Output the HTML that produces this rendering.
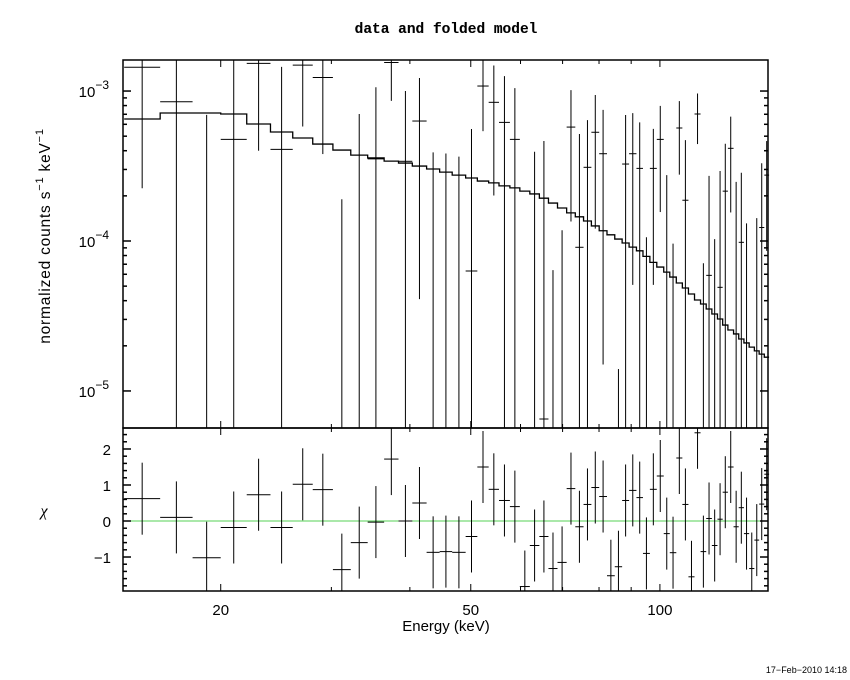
<!DOCTYPE html>
<html><head><meta charset="utf-8"><style>
html,body{margin:0;padding:0;background:#fff;}
svg{display:block;font-family:"Liberation Sans",sans-serif;}
</style></head><body>
<svg id="chart" width="850" height="680" viewBox="0 0 850 680" xmlns="http://www.w3.org/2000/svg">
<rect width="850" height="680" fill="#fff"/>
<text x="446" y="33" text-anchor="middle" font-family="Liberation Mono, monospace" font-weight="bold" font-size="14.5" stroke="#000" stroke-width="0.1">data and folded model</text>
<text transform="translate(50,236) rotate(-90)" text-anchor="middle" font-size="15.5" letter-spacing="0.8">normalized counts s<tspan dy="-7" font-size="11">−1</tspan><tspan dy="7"> keV</tspan><tspan dy="-7" font-size="11">−1</tspan></text>
<text x="44" y="516" text-anchor="middle" font-family="Liberation Serif, serif" font-style="italic" font-size="16">χ</text>
<text x="446" y="631" text-anchor="middle" font-size="15">Energy (keV)</text>
<text x="847" y="673" text-anchor="end" font-size="9">17−Feb−2010 14:18</text>
<g id="g"></g>
</svg>
<script>
// bin edges (keV)
const binEdges=[14.04,16.02,18.04,20.0,22.0,24.0,26.04,28.02,30.17,32.21,34.27,36.40,38.37,40.36,42.53,44.61,46.71,49.07,51.22,53.39,55.45,57.71,59.85,62.08,64.29,66.47,68.71,71.05,73.34,75.59,77.79,80.05,82.37,84.75,87.07,89.32,91.76,93.98,96.39,98.86,101.41,103.68,106.19,108.57,111.02,113.52,116.06,118.49,120.97,123.48,125.86,128.29,130.98,133.48,136.05,138.69,141.36,143.86,146.60,149.19];
// folded model (counts/s/keV)
const modelVals=[6.51e-4,7.14e-4,7.14e-4,7.03e-4,6.03e-4,5.33e-4,4.86e-4,4.43e-4,4.04e-4,3.74e-4,3.58e-4,3.41e-4,3.31e-4,3.16e-4,3.02e-4,2.88e-4,2.75e-4,2.63e-4,2.51e-4,2.44e-4,2.33e-4,2.26e-4,2.15e-4,2.06e-4,1.93e-4,1.79e-4,1.66e-4,1.54e-4,1.45e-4,1.36e-4,1.26e-4,1.17e-4,1.10e-4,1.03e-4,9.7e-5,9.1e-5,8.6e-5,7.9e-5,7.2e-5,6.7e-5,6.2e-5,5.75e-5,5.25e-5,4.86e-5,4.43e-5,4.04e-5,3.8e-5,3.52e-5,3.26e-5,3.02e-5,2.75e-5,2.55e-5,2.4e-5,2.22e-5,2.09e-5,1.96e-5,1.85e-5,1.76e-5,1.68e-5];
// data values
const dataVals=[1.44e-3,8.49e-4,-3.06e-4,4.76e-4,1.53e-3,4.08e-4,1.49e-3,1.23e-3,-5.4e-4,-4.7e-5,3.53e-4,1.55e-3,3.4e-4,6.31e-4,-1.8e-4,-1.67e-4,-1.75e-4,6.31e-5,1.08e-3,8.41e-4,6.18e-4,4.76e-4,-2.58e-4,-1.96e-4,6.5e-6,-2.95e-4,-2.02e-4,5.75e-4,9.08e-5,3.1e-4,5.31e-4,3.82e-4,-3.46e-4,-3.16e-4,3.26e-4,3.82e-4,3.05e-4,-1.64e-4,3.05e-4,4.76e-4,-5.3e-5,-2.24e-4,5.67e-4,1.87e-4,-4.2e-4,7.03e-4,-1.49e-4,5.9e-5,-1.17e-4,4.91e-5,2.15e-4,4.15e-4,-1.9e-5,9.8e-5,-3.9e-5,-2.44e-4,-1.21e-4,1.23e-4,2.75e-4];
// data 1-sigma errors
const dataErrs=[1.215e-3,1.35e-3,1.0e-3,1.26e-3,1.13e-3,1.04e-3,9.1e-4,8.5e-4,7.3e-4,7.5e-4,7.07e-4,6.9e-4,6.6e-4,5.9e-4,5.7e-4,5.5e-4,5.4e-4,4.95e-4,5.4e-4,6.4e-4,6.4e-4,5.7e-4,2.6e-4,5.9e-4,4.58e-4,3.59e-4,3.2e-4,4.4e-4,4.26e-4,3.3e-4,4.1e-4,3.67e-4,3.0e-4,3.3e-4,3.66e-4,3.31e-4,3.13e-4,2.7e-4,2.54e-4,3.2e-4,3.28e-4,3.2e-4,2.9e-4,2.84e-4,3.0e-4,2.6e-4,2.2e-4,2.13e-4,2.2e-4,2.44e-4,2.3e-4,2.6e-4,2.67e-4,1.87e-4,1.7e-4,2.0e-4,2.63e-4,2.07e-4,1.89e-4];
// residuals (chi)
const chiVals=[0.62,0.1,-1.02,-0.18,0.73,-0.18,1.02,0.87,-1.35,-0.6,-0.03,1.72,0.0,0.5,-0.87,-0.85,-0.87,-0.43,1.5,0.88,0.57,0.4,-1.82,-0.68,-0.43,-1.32,-1.15,0.9,-0.16,0.46,0.93,0.68,-1.52,-1.27,0.57,0.85,0.65,-0.9,0.88,1.25,-0.35,-0.88,1.75,0.46,-1.55,2.45,-0.85,0.07,-0.68,0.05,0.8,1.5,-0.16,0.37,-0.35,-1.32,-0.53,0.47,1.3];
const xTickVals=[20,30,40,50,60,70,80,90,100];
const xTickLabels=["20","50","100"];
const yTopDecades=[-3,-4,-5];
const chiTickLabels=["-1","0","1","2"];

const NS="http://www.w3.org/2000/svg";
const g=document.getElementById('g');
const L=123,R=768,T1=60,B1=428,T2=428,B2=591;
const EMIN=13.98,EMAX=148.6,LT=-2.793,LB=-5.247,CT=2.583,CB=-1.944;
const xs=e=>L+(R-L)*(Math.log10(e)-Math.log10(EMIN))/(Math.log10(EMAX)-Math.log10(EMIN));
const ys=v=>T1+(B1-T1)*(LT-Math.log10(v))/(LT-LB);
const yc=v=>T2+(B2-T2)*(CT-v)/(CT-CB);
function el(tag,a,p){const e=document.createElementNS(NS,tag);for(const k in a)e.setAttribute(k,a[k]);(p||g).appendChild(e);return e;}
function line(x1,y1,x2,y2,w,c,p){return el('line',{x1,y1,x2,y2,stroke:c||'#000','stroke-width':w||1},p);}
const clampY=(y,t,b)=>Math.max(t,Math.min(b,y));

// model step line
let d='';
modelVals.forEach((m,i)=>{const x1=xs(binEdges[i]),x2=xs(binEdges[i+1]),y=ys(m);d+=(i?'L':'M')+x1+' '+y+'L'+x2+' '+y;});
const mp=el('path',{d:d,fill:'none',stroke:'#000','stroke-width':1.3});



// data points
const dg=el('g',{});


dataVals.forEach((v,i)=>{
  const e=dataErrs[i],up=v+e,lo=v-e;
  const xc=xs(Math.sqrt(binEdges[i]*binEdges[i+1]));
  const pg=el('g',{},dg);
  
  
  if(up>0){
    const yu=clampY(ys(up),T1,B1),yl=lo>0?clampY(ys(lo),T1,B1):B1;
    if(yl>yu)line(xc,yu,xc,yl,1,'#000',pg);
  }
  if(v>0){const y=ys(v);if(y>=T1&&y<=B1)line(xs(binEdges[i]),y,xs(binEdges[i+1]),y,1,'#000',pg);}
});

// residuals
const zl=line(L,yc(0),R,yc(0),1,'#55d055');


const rg=el('g',{});


chiVals.forEach((c,i)=>{
  const xc=xs(Math.sqrt(binEdges[i]*binEdges[i+1]));
  const pg=el('g',{},rg);
  
  
  const yu=clampY(yc(c+1),T2,B2),yl=clampY(yc(c-1),T2,B2);
  line(xc,yu,xc,yl,1,'#000',pg);
  const y=yc(c);if(y>=T2&&y<=B2)line(xs(binEdges[i]),y,xs(binEdges[i+1]),y,1,'#000',pg);
});

// frames
const f1=el('rect',{x:L,y:T1,width:R-L,height:B1-T1,fill:'none',stroke:'#000','stroke-width':1.5});


const f2=el('rect',{x:L,y:T2,width:R-L,height:B2-T2,fill:'none',stroke:'#000','stroke-width':1.5});



// x ticks
xTickVals.forEach(v=>{
  const x=xs(v),major=xTickLabels.includes(String(v)),len=major?7:4;
  [[T1,1],[B1,-1],[T2,1],[B2,-1]].forEach(([y,s])=>line(x,y,x,y+s*len,1));
  if(major){const t=el('text',{x:x,y:615,'text-anchor':'middle','font-size':15});t.textContent=String(v);
    
    }
});
// top y ticks
yTopDecades.forEach(dec=>{
  for(let k=1;k<10;k++){const v=k*Math.pow(10,dec),y=ys(v);if(y<T1||y>B1)continue;
    const len=k===1?8:4;line(L,y,L+len,y,1.5);line(R,y,R-len,y,1.5);}
  const y=ys(Math.pow(10,dec));
  const t=el('text',{x:109,y:y+6,'text-anchor':'end','font-size':15});
  
  
  t.innerHTML='10<tspan dy="-8" font-size="12">'+(dec<0?'−'+Math.abs(dec):dec)+'</tspan>';
});
// chi ticks
for(let v=-1.8;v<=2.41;v+=0.2){const y=yc(v),maj=Math.abs(v-Math.round(v))<0.01,len=maj?8:4;line(L,y,L+len,y,1.5);line(R,y,R-len,y,1.5);}
chiTickLabels.forEach(s=>{const v=+s,y=yc(v);
  const t=el('text',{x:111,y:y+6,'text-anchor':'end','font-size':15});t.textContent=v<0?'−'+Math.abs(v):s;
  
  });
</script>
</body></html>
